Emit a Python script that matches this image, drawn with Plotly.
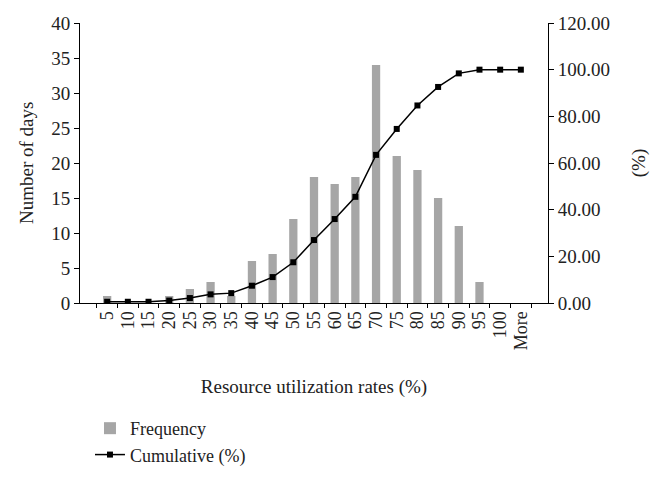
import plotly.graph_objects as go

categories = ["5", "10", "15", "20", "25", "30", "35", "40", "45", "50", "55",
              "60", "65", "70", "75", "80", "85", "90", "95", "100", "More"]
frequency = [1, 0, 0, 1, 2, 3, 1, 6, 7, 12, 18, 17, 18, 34, 21, 19, 15, 11, 3, 0, 0]
cumulative = [0.53, 0.53, 0.53, 1.06, 2.12, 3.70, 4.23, 7.41, 11.11, 17.46, 26.98,
              35.98, 45.50, 63.49, 74.60, 84.66, 92.59, 98.41, 100.0, 100.0, 100.0]

FONT = "Liberation Serif"

fig = go.Figure()
fig.add_trace(go.Bar(x=categories, y=frequency, name="Frequency",
                     marker=dict(color="#a6a6a6", line=dict(width=0)), yaxis="y"))
fig.add_trace(go.Scatter(x=categories, y=cumulative, name="Cumulative (%)", yaxis="y2",
                         mode="lines+markers",
                         line=dict(color="black", width=1.5),
                         marker=dict(symbol="square", size=6, color="black")))

fig.update_layout(
    width=648, height=463,
    margin=dict(l=72, r=108, t=15, b=168, autoexpand=False),
    paper_bgcolor="white", plot_bgcolor="white",
    font=dict(family=FONT, size=19, color="#222"),
    bargap=0.6,
    showlegend=True,
    legend=dict(xref="container", yref="container", x=0.1265, y=0.1318,
                xanchor="left", yanchor="top",
                font=dict(family=FONT, size=18), tracegroupgap=0,
                bgcolor="rgba(0,0,0,0)"),
    xaxis=dict(type="category", tickangle=-90, showline=True, linecolor="black",
               linewidth=1, ticks="outside", tickson="boundaries", ticklen=4,
               tickcolor="black", showgrid=False, automargin=False,
               tickmode="array", tickvals=categories, ticktext=categories,
               tickfont=dict(family=FONT, size=18),
               title=dict(text="Resource utilization rates (%)",
                          font=dict(family=FONT, size=19), standoff=30)),
    yaxis=dict(range=[0, 40], dtick=5, showline=True, linecolor="black", linewidth=1,
               ticks="outside", ticklen=5, tickcolor="black", showgrid=False,
               zeroline=False, automargin=False, tickfont=dict(family=FONT, size=19)),
    yaxis2=dict(range=[0, 120], dtick=20, overlaying="y", side="right",
                showline=True, linecolor="black", linewidth=1, ticks="outside",
                ticklen=5, tickcolor="black", showgrid=False, zeroline=False,
                automargin=False,
                tickformat=".2f", tickfont=dict(family=FONT, size=19),
                title=dict(text="(%)", font=dict(family=FONT, size=19), standoff=22)),
    annotations=[dict(text="Number of days", xref="paper", yref="paper",
                      x=-0.1154, y=0.5, xanchor="center", yanchor="middle",
                      textangle=-90, showarrow=False,
                      font=dict(family=FONT, size=19, color="#222"))],
)

fig.write_html("out.html")
